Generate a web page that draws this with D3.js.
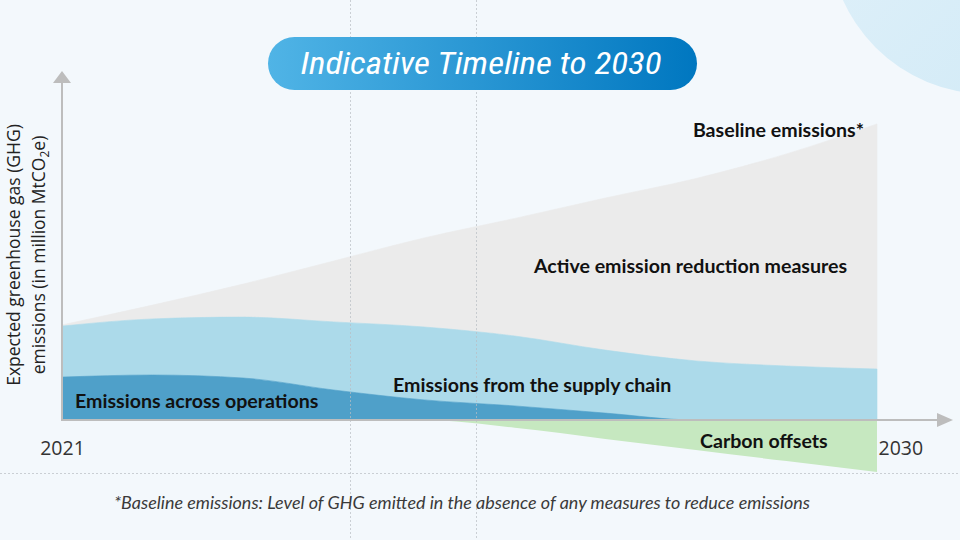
<!DOCTYPE html>
<html>
<head>
<meta charset="utf-8">
<script src="https://cdn.jsdelivr.net/npm/d3@7"></script>
<style>
  html, body { margin: 0; padding: 0; background: #f3f8fc; }
  svg { display: block; }
</style>
</head>
<body>
<svg id="chart" width="960" height="540"></svg>
<script>
// values (arbitrary units, 0 = x axis)
var years = [2021, 2022, 2023, 2024, 2025, 2026, 2027, 2028, 2029, 2030];
var baseline = [31.7, 38.3, 45.3, 53.0, 60.7, 67.2, 74.0, 80.5, 88.7, 98.7];
var operations = [14.3, 15.0, 14.0, 10.0, 6.7, 4.7, 2.3, 0, 0, 0];
var supplyChain = [17.0, 18.7, 20.3, 22.7, 24.3, 23.3, 21.0, 19.7, 18.0, 17.0];
var offsets = [0, 0, 0, 0, 0, -2.6, -6.3, -10.0, -13.7, -17.3];
var tickYears = [2021, 2030];

var svg = d3.select('#chart');
var width = 960, height = 540;

var x = d3.scaleLinear().domain([2021, 2030]).range([62, 877]);
var y = d3.scaleLinear().domain([0, 100]).range([420, 120]);

var defs = svg.append('defs');
var grad = defs.append('linearGradient').attr('id', 'pill').attr('x1', '0%').attr('x2', '100%');
grad.append('stop').attr('offset', '0%').attr('stop-color', '#50b4e6');
grad.append('stop').attr('offset', '100%').attr('stop-color', '#0077c0');
var cgrad = defs.append('linearGradient').attr('id', 'blob').attr('x1', '0%').attr('y1', '0%').attr('x2', '100%').attr('y2', '100%');
cgrad.append('stop').attr('offset', '0%').attr('stop-color', '#e3f2fa');
cgrad.append('stop').attr('offset', '100%').attr('stop-color', '#cfe9f6');

// background
svg.append('rect').attr('width', width).attr('height', height).attr('fill', '#f3f8fc');
svg.append('circle').attr('cx', 988).attr('cy', -65).attr('r', 159).attr('fill', 'url(#blob)');

// build table for stacking
var table = years.map(function(yr, i) {
  return {
    year: yr,
    operations: operations[i],
    supplyChain: supplyChain[i],
    reduction: baseline[i] - operations[i] - supplyChain[i],
    offsets: offsets[i]
  };
});

var keys = ['operations', 'supplyChain', 'reduction'];
var colors = {operations: '#4fa0c9', supplyChain: '#acdaea', reduction: '#ebebeb'};
var layers = d3.stack().keys(keys)(table);

var area = d3.area()
  .curve(d3.curveMonotoneX)
  .x(function(d) { return x(d.data.year); })
  .y0(function(d) { return y(d[0]); })
  .y1(function(d) { return y(d[1]); });

svg.append('g').selectAll('path')
  .data(layers.slice().reverse())
  .enter()
  .append('path')
  .attr('d', area)
  .attr('fill', function(d) { return colors[d.key]; })
  .attr('stroke', function(d) { return colors[d.key]; })
  .attr('stroke-width', 0.6);

var offsetArea = d3.area()
  .curve(d3.curveMonotoneX)
  .x(function(d) { return x(d.year); })
  .y0(y(0))
  .y1(function(d) { return y(d.offsets); });

svg.append('path')
  .datum(table)
  .attr('d', offsetArea)
  .attr('fill', '#c6e8c0');

// slide guide lines
var guides = svg.append('g')
  .attr('stroke', '#b9bec4')
  .attr('stroke-width', 1)
  .attr('stroke-dasharray', '2,2')
  .attr('opacity', 0.7);
guides.append('line').attr('x1', 350.5).attr('x2', 350.5).attr('y1', 0).attr('y2', height);
guides.append('line').attr('x1', 476.5).attr('x2', 476.5).attr('y1', 0).attr('y2', height);
guides.append('line').attr('x1', 0).attr('x2', width).attr('y1', 473.5).attr('y2', 473.5);

// axes with arrows
var axisColor = '#bdbdbd';
var x0 = x.range()[0], y0 = y(0);
svg.append('line').attr('x1', x0).attr('x2', x0).attr('y1', y0 + 1).attr('y2', 82)
  .attr('stroke', axisColor).attr('stroke-width', 2);
svg.append('path').attr('d', 'M' + (x0 - 9) + ',83L' + x0 + ',71L' + (x0 + 9) + ',83Z').attr('fill', axisColor);
svg.append('line').attr('x1', x0).attr('x2', 938).attr('y1', y0).attr('y2', y0)
  .attr('stroke', axisColor).attr('stroke-width', 2);
svg.append('path').attr('d', 'M937,' + (y0 - 7) + 'L953,' + y0 + 'L937,' + (y0 + 7) + 'Z').attr('fill', axisColor);

var xAxis = d3.axisBottom(x).tickValues(tickYears).tickFormat(d3.format('d')).tickSize(0).tickPadding(0);
var gx = svg.append('g').attr('transform', 'translate(0,' + (y0 + 21) + ')').call(xAxis);
gx.select('.domain').remove();
gx.selectAll('text')
  .attr('font-family', "'Open Sans', sans-serif")
  .attr('font-size', 19.5)
  .attr('fill', '#333')
  .attr('text-anchor', function(d) { return d === 2030 ? 'start' : 'middle'; })
  .attr('dx', function(d) { return d === 2030 ? 1 : 0; });

// y axis title
var yt = svg.append('text')
  .attr('transform', 'translate(20,255) rotate(-90)')
  .attr('text-anchor', 'middle')
  .attr('font-family', "'Open Sans', sans-serif")
  .attr('font-size', 17.5)
  .attr('fill', '#222');
yt.append('tspan').attr('x', 0).attr('y', 0).text('Expected greenhouse gas (GHG)');
var l2 = yt.append('tspan').attr('x', 0).attr('y', 25);
l2.append('tspan').text('emissions (in million MtCO');
l2.append('tspan').attr('font-size', 12).attr('dy', 4).text('2');
l2.append('tspan').attr('dy', -4).text('e)');

// title pill
svg.append('rect').attr('x', 268).attr('y', 37).attr('width', 429).attr('height', 53)
  .attr('rx', 26.5).attr('fill', 'url(#pill)');
svg.append('text')
  .attr('x', 481).attr('y', 74)
  .attr('text-anchor', 'middle')
  .attr('font-family', "'Roboto Condensed', Roboto, sans-serif")
  .attr('font-style', 'italic')
  .attr('font-weight', 400)
  .attr('font-size', 31)
  .attr('fill', '#fff')
  .attr('textLength', 361)
  .attr('lengthAdjust', 'spacingAndGlyphs')
  .text('Indicative Timeline to 2030');

// annotations
var labels = [
  {text: 'Baseline emissions*', x: 864, y: 137, anchor: 'end'},
  {text: 'Active emission reduction measures', x: 534, y: 273, anchor: 'start'},
  {text: 'Emissions from the supply chain', x: 393, y: 392, anchor: 'start'},
  {text: 'Emissions across operations', x: 75, y: 408, anchor: 'start'},
  {text: 'Carbon offsets', x: 700, y: 448, anchor: 'start'}
];
svg.append('g').selectAll('text')
  .data(labels)
  .enter()
  .append('text')
  .attr('x', function(d) { return d.x; })
  .attr('y', function(d) { return d.y; })
  .attr('text-anchor', function(d) { return d.anchor; })
  .attr('font-family', 'Lato, sans-serif')
  .attr('font-weight', 'bold')
  .attr('font-size', 19.6)
  .attr('fill', '#111')
  .text(function(d) { return d.text; });

// footnote
svg.append('text')
  .attr('x', 462).attr('y', 509)
  .attr('text-anchor', 'middle')
  .attr('font-family', 'Lato, sans-serif')
  .attr('font-style', 'italic')
  .attr('font-size', 17)
  .attr('fill', '#3a3a3a')
  .attr('textLength', 696)
  .attr('lengthAdjust', 'spacingAndGlyphs')
  .text('*Baseline emissions: Level of GHG emitted in the absence of any measures to reduce emissions');
</script>
</body>
</html>
